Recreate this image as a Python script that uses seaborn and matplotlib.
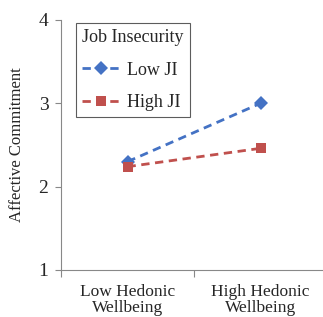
import matplotlib
matplotlib.use("Agg")
import matplotlib.pyplot as plt
import seaborn as sns
import pandas as pd

# Data
conditions = ['Low Hedonic\nWellbeing', 'High Hedonic\nWellbeing']
groups = ['Low JI', 'High JI']
low_ji = [2.30, 3.00]
high_ji = [2.24, 2.46]

rows = []
for g, vals in zip(groups, [low_ji, high_ji]):
    for i, v in enumerate(vals):
        rows.append({'pos': i, 'group': g, 'value': v})
df = pd.DataFrame(rows)

sns.set_style('white')
plt.rcParams['font.family'] = ['Liberation Serif', 'DejaVu Serif']

fig = plt.figure(figsize=(3.23, 3.17), dpi=100)
ax = fig.add_axes([61 / 323, 47 / 317, 266 / 323, 250 / 317])

palette = {'Low JI': '#4472C4', 'High JI': '#C0504D'}
sns.lineplot(data=df, x='pos', y='value', hue='group', style='group',
             hue_order=groups, style_order=groups, palette=palette,
             markers={'Low JI': 'D', 'High JI': 's'},
             dashes={'Low JI': (3, 2), 'High JI': (3, 2)},
             markersize=7, linewidth=2, markeredgewidth=0, ax=ax)

ax.set_xlim(-0.5, 1.5)
ax.set_ylim(1, 4)
ax.set_yticks([1, 2, 3, 4])
ax.set_xticks([0, 1])
ax.set_xticklabels(conditions, fontsize=12.5, linespacing=1.0)
ax.set_xticks([-0.5, 0.5, 1.5], minor=True)
ax.tick_params(axis='x', which='major', bottom=False, length=0, pad=10)
ax.tick_params(axis='x', which='minor', bottom=True, length=5, color='#888888', width=0.8, direction='out')
ax.tick_params(axis='y', left=True, length=4, color='#888888', width=0.8, direction='out', labelsize=14, pad=5)
ax.set_xlabel('')
ax.set_ylabel('Affective Commitment', fontsize=12, labelpad=10)

for s in ['top', 'right']:
    ax.spines[s].set_visible(False)
for s in ['left', 'bottom']:
    ax.spines[s].set_color('#888888')
    ax.spines[s].set_linewidth(0.8)

leg = ax.legend(title='Job Insecurity', loc='upper left', bbox_to_anchor=(15 / 266, 247 / 250),
                fontsize=13, title_fontsize=13, frameon=True, fancybox=False,
                handlelength=2.1, labelspacing=0.85, borderpad=0.35, handletextpad=0.4,
                borderaxespad=0)
leg.get_frame().set_edgecolor('#333333')
leg.get_frame().set_linewidth(0.8)
leg._legend_box.align = 'left'

fig.savefig('out.png', dpi=100)
